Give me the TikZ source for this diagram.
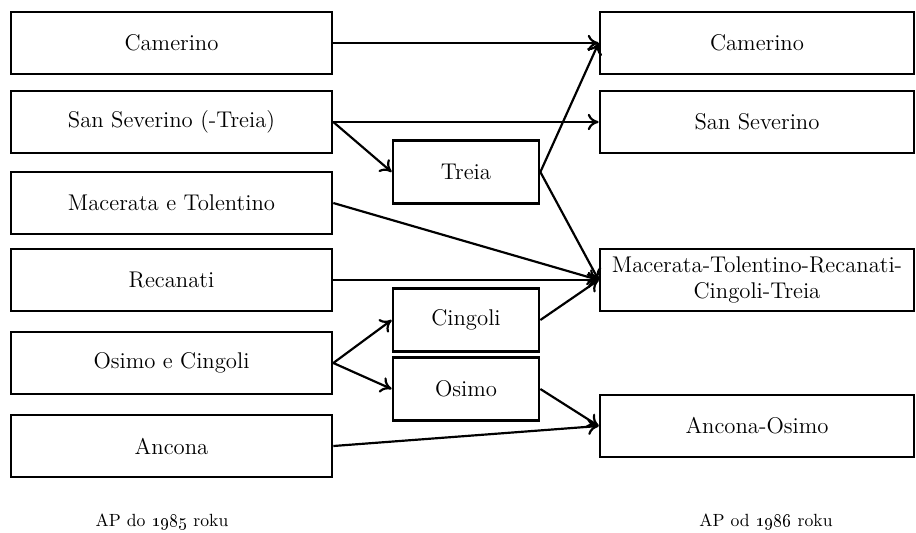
\documentclass[tikz,border=0pt]{standalone}
\usetikzlibrary{arrows.meta}

\tikzset{
  box/.style={draw, line width=1.5pt, inner sep=2pt, align=center,
    font=\fontsize{12.5}{14.5}\selectfont},
  leftbox/.style={box, minimum width=176.5pt, minimum height=34.1pt},
  midbox/.style={box, minimum width=80.3pt, minimum height=34.6pt},
  rightbox/.style={box, minimum width=172.7pt, minimum height=34.1pt},
  link/.style={-{To[length=6pt,width=9pt]}, line width=1.2pt},
  caption/.style={font=\fontsize{9.7}{12}\selectfont}
}

\begin{document}
\begin{tikzpicture}[x=0.55pt, y=-0.55pt]

  \useasboundingbox (0,0) rectangle (916,532);

  % before 1985
  \node[leftbox] (camL) at (171.5,43) {Camerino};
  \node[leftbox] (sevL) at (171.5,122) {San Severino (-Treia)};
  \node[leftbox] (macL) at (171.5,203) {Macerata e Tolentino};
  \node[leftbox] (recL) at (171.5,280) {Recanati};
  \node[leftbox] (osiL) at (171.5,363) {Osimo e Cingoli};
  \node[leftbox] (ancL) at (171.5,446) {Ancona};

  % split parts
  \node[midbox] (treM) at (466,172) {Treia};
  \node[midbox] (cinM) at (466,320) {Cingoli};
  \node[midbox] (osiM) at (466,389) {Osimo};

  % from 1986
  \node[rightbox] (camR) at (757,43) {Camerino};
  \node[rightbox] (sevR) at (757,122) {San Severino};
  \node[rightbox] (macR) at (757,280) {Macerata-Tolentino-Recanati-\\Cingoli-Treia};
  \node[rightbox] (ancR) at (757,426) {Ancona-Osimo};

  \draw[link] (camL.east) -- (camR.west);
  \draw[link] (sevL.east) -- (sevR.west);
  \draw[link] (sevL.east) -- (treM.west);
  \draw[link] (treM.east) -- (camR.west);
  \draw[link] (treM.east) -- (macR.west);
  \draw[link] (macL.east) -- (macR.west);
  \draw[link] (recL.east) -- (macR.west);
  \draw[link] (osiL.east) -- (cinM.west);
  \draw[link] (osiL.east) -- (osiM.west);
  \draw[link] (cinM.east) -- (macR.west);
  \draw[link] (osiM.east) -- (ancR.west);
  \draw[link] (ancL.east) -- (ancR.west);

  \node[caption] (capL) at (162,522) {AP do \oldstylenums{1985} roku};
  \node[caption] (capR) at (766,522) {AP od \oldstylenums{1986} roku};

\end{tikzpicture}
\end{document}
